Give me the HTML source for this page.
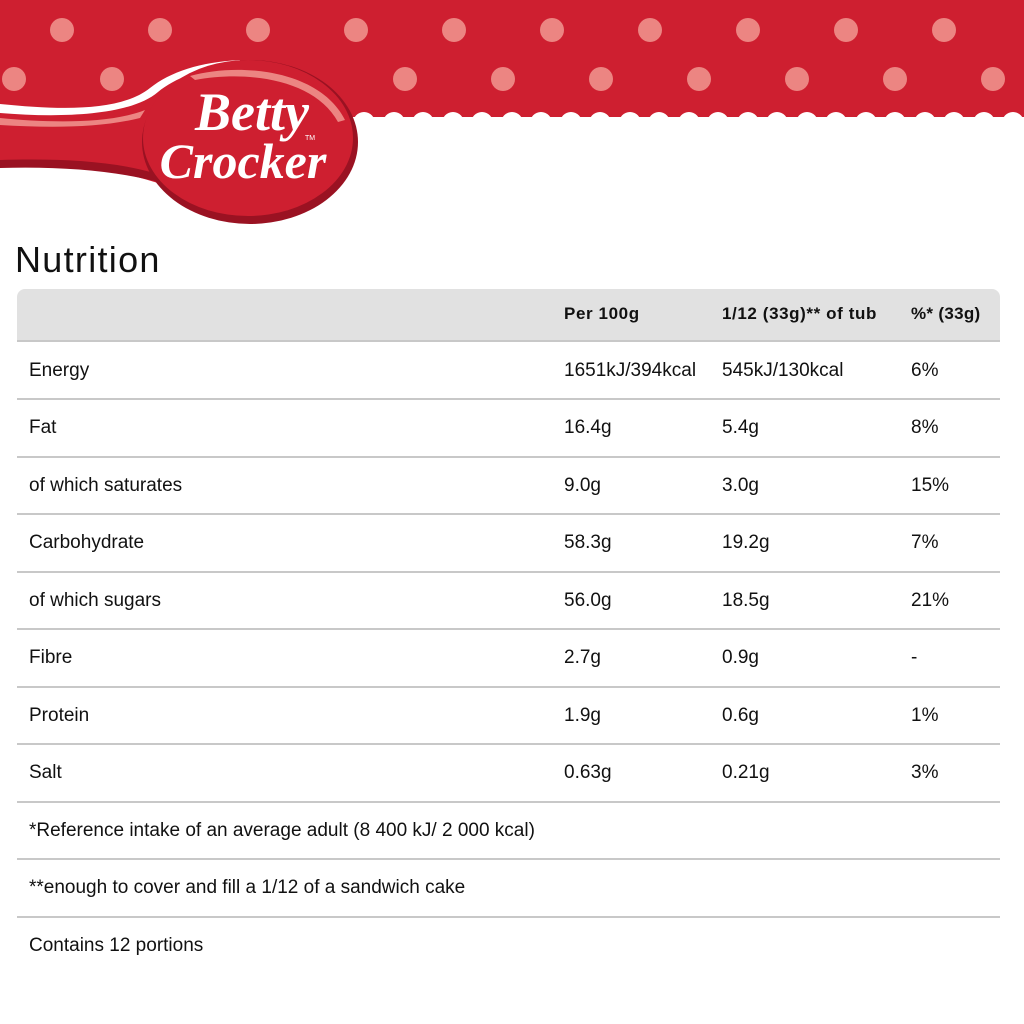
<!DOCTYPE html>
<html><head><meta charset="utf-8"><style>
body{margin:0;width:1024px;height:1024px;background:#fff;position:relative;overflow:hidden;font-family:"Liberation Sans",sans-serif;color:#111}
svg{position:absolute;left:0;top:0}
.t{position:absolute;font-size:19px;letter-spacing:0px;white-space:nowrap;line-height:20px}
.b{font-weight:bold;font-size:17px;letter-spacing:0.6px}
.ln{position:absolute;left:17px;width:983px;height:2px;background:#c8c8c8}
</style></head><body>
<svg width="1024" height="240" viewBox="0 0 1024 240">
<rect x="0" y="0" width="1024" height="117" fill="#ce1f30"/>
<g fill="#fff">
<circle cx="364" cy="123" r="11"/><circle cx="394" cy="123" r="11"/><circle cx="423" cy="123" r="11"/><circle cx="453" cy="123" r="11"/><circle cx="482" cy="123" r="11"/><circle cx="512" cy="123" r="11"/><circle cx="541" cy="123" r="11"/><circle cx="571" cy="123" r="11"/><circle cx="600" cy="123" r="11"/><circle cx="630" cy="123" r="11"/><circle cx="659" cy="123" r="11"/><circle cx="689" cy="123" r="11"/><circle cx="718" cy="123" r="11"/><circle cx="748" cy="123" r="11"/><circle cx="777" cy="123" r="11"/><circle cx="807" cy="123" r="11"/><circle cx="836" cy="123" r="11"/><circle cx="866" cy="123" r="11"/><circle cx="895" cy="123" r="11"/><circle cx="925" cy="123" r="11"/><circle cx="954" cy="123" r="11"/><circle cx="984" cy="123" r="11"/><circle cx="1013" cy="123" r="11"/>
</g>
<g fill="#ec8582">
<circle cx="62" cy="30" r="12"/><circle cx="160" cy="30" r="12"/><circle cx="258" cy="30" r="12"/><circle cx="356" cy="30" r="12"/><circle cx="454" cy="30" r="12"/><circle cx="552" cy="30" r="12"/><circle cx="650" cy="30" r="12"/><circle cx="748" cy="30" r="12"/><circle cx="846" cy="30" r="12"/><circle cx="944" cy="30" r="12"/>
<circle cx="14" cy="79" r="12"/><circle cx="112" cy="79" r="12"/><circle cx="405" cy="79" r="12"/><circle cx="503" cy="79" r="12"/><circle cx="601" cy="79" r="12"/><circle cx="699" cy="79" r="12"/><circle cx="797" cy="79" r="12"/><circle cx="895" cy="79" r="12"/><circle cx="993" cy="79" r="12"/>
</g>
<path d="M0,104 C60,110 120,112 160,80 L200,70 L200,200 C150,175 80,160 0,166 Z" fill="#ce1f30"/>
<path d="M0,160 C70,158 130,162 175,180 L180,188 C130,172 70,166 0,168 Z" fill="#9a1222"/>
<path d="M0,104 C60,110 120,112 150,88 C170,72 200,62 240,60 L240,66 C200,68 175,78 158,92 C130,116 60,118 0,113 Z" fill="#fff"/>
<path d="M0,118 C50,123 110,124 145,110 L140,118 C100,128 50,128 0,125 Z" fill="#ec8582"/>
<ellipse cx="250" cy="142" rx="108" ry="82" fill="#9a1222"/>
<ellipse cx="248" cy="138" rx="105" ry="78" fill="#ce1f30"/>
<path d="M190,76 C240,62 320,70 345,120 L338,122 C315,80 250,70 195,80 Z" fill="#ec8582"/>
<text x="252" y="130" text-anchor="middle" font-family="Liberation Serif,serif" font-style="italic" font-weight="bold" font-size="54" fill="#fff">Betty</text>
<text x="243" y="178" text-anchor="middle" font-family="Liberation Serif,serif" font-style="italic" font-weight="bold" font-size="50" fill="#fff">Crocker</text>
<text x="305" y="140" font-size="7" fill="#fff" font-family="Liberation Sans">TM</text>
</svg>
<div class="t" style="left:15px;top:240px;font-size:36px;letter-spacing:1.3px;line-height:40px">Nutrition</div>
<div style="position:absolute;left:17px;top:289px;width:983px;height:51px;background:#e1e1e1;border-radius:8px 8px 0 0"></div>
<div class="ln" style="top:340px"></div>
<div class="t b" style="left:564px;top:304px">Per 100g</div>
<div class="t b" style="left:722px;top:304px">1/12 (33g)** of tub</div>
<div class="t b" style="left:911px;top:304px;letter-spacing:0.3px">%* (33g)</div>

<div class="t" style="left:29px;top:361px">Energy</div><div class="t" style="left:564px;top:361px">1651kJ/394kcal</div><div class="t" style="left:722px;top:361px">545kJ/130kcal</div><div class="t" style="left:911px;top:361px">6%</div>
<div class="ln" style="top:398px"></div>
<div class="t" style="left:29px;top:418px">Fat</div><div class="t" style="left:564px;top:418px">16.4g</div><div class="t" style="left:722px;top:418px">5.4g</div><div class="t" style="left:911px;top:418px">8%</div>
<div class="ln" style="top:456px"></div>
<div class="t" style="left:29px;top:476px">of which saturates</div><div class="t" style="left:564px;top:476px">9.0g</div><div class="t" style="left:722px;top:476px">3.0g</div><div class="t" style="left:911px;top:476px">15%</div>
<div class="ln" style="top:513px"></div>
<div class="t" style="left:29px;top:533px">Carbohydrate</div><div class="t" style="left:564px;top:533px">58.3g</div><div class="t" style="left:722px;top:533px">19.2g</div><div class="t" style="left:911px;top:533px">7%</div>
<div class="ln" style="top:571px"></div>
<div class="t" style="left:29px;top:591px">of which sugars</div><div class="t" style="left:564px;top:591px">56.0g</div><div class="t" style="left:722px;top:591px">18.5g</div><div class="t" style="left:911px;top:591px">21%</div>
<div class="ln" style="top:628px"></div>
<div class="t" style="left:29px;top:648px">Fibre</div><div class="t" style="left:564px;top:648px">2.7g</div><div class="t" style="left:722px;top:648px">0.9g</div><div class="t" style="left:911px;top:648px">-</div>
<div class="ln" style="top:686px"></div>
<div class="t" style="left:29px;top:706px">Protein</div><div class="t" style="left:564px;top:706px">1.9g</div><div class="t" style="left:722px;top:706px">0.6g</div><div class="t" style="left:911px;top:706px">1%</div>
<div class="ln" style="top:743px"></div>
<div class="t" style="left:29px;top:763px">Salt</div><div class="t" style="left:564px;top:763px">0.63g</div><div class="t" style="left:722px;top:763px">0.21g</div><div class="t" style="left:911px;top:763px">3%</div>
<div class="ln" style="top:801px"></div>
<div class="t" style="left:29px;top:821px">*Reference intake of an average adult (8 400 kJ/ 2 000 kcal)</div>
<div class="ln" style="top:858px"></div>
<div class="t" style="left:29px;top:878px">**enough to cover and fill a 1/12 of a sandwich cake</div>
<div class="ln" style="top:916px"></div>
<div class="t" style="left:29px;top:936px">Contains 12 portions</div>
</body></html>
